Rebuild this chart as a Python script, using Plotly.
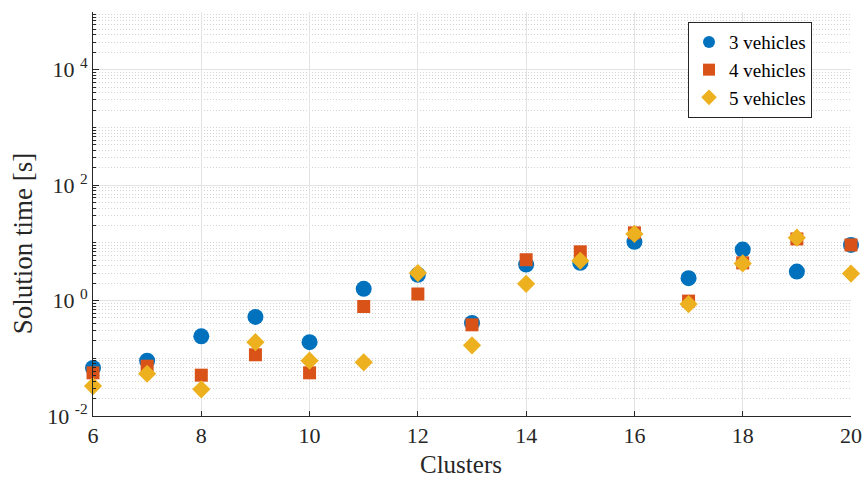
import plotly.graph_objects as go

clusters = [6, 7, 8, 9, 10, 11, 12, 13, 14, 15, 16, 17, 18, 19, 20]
time_3_vehicles = [0.068, 0.091, 0.24, 0.52, 0.19, 1.6, 2.8, 0.41, 4.2, 4.5, 10.4, 2.44, 7.65, 3.18, 9.2]
time_4_vehicles = [0.056, 0.073, 0.051, 0.115, 0.056, 0.79, 1.3, 0.38, 5.1, 7.0, 14.9, 0.98, 4.5, 11.7, 9.2]
time_5_vehicles = [0.033, 0.054, 0.029, 0.19, 0.091, 0.085, 3.0, 0.168, 1.95, 4.9, 14.3, 0.87, 4.4, 12.3, 2.94]

x_ticks = [6, 8, 10, 12, 14, 16, 18, 20]
y_tick_vals = [1e-2, 1e0, 1e2, 1e4]
y_tick_text = ["10 <sup>-2</sup>", "10 <sup>0</sup>", "10 <sup>2</sup>", "10 <sup>4</sup>"]

minor_vals = []
for e in range(-2, 5):
    for k in range(1, 10):
        v = k * 10 ** e
        if v not in y_tick_vals:
            minor_vals.append(v)
minor_vals.append(1e5)

FONT = "Liberation Serif"
AX = "#262626"

fig = go.Figure()
fig.add_trace(go.Scatter(x=clusters, y=time_3_vehicles, mode="markers", name="3 vehicles",
                         marker=dict(symbol="circle", size=16, color="#0072BD"), cliponaxis=False))
fig.add_trace(go.Scatter(x=clusters, y=time_4_vehicles, mode="markers", name="4 vehicles",
                         marker=dict(symbol="square", size=13, color="#D95319"), cliponaxis=False))
fig.add_trace(go.Scatter(x=clusters, y=time_5_vehicles, mode="markers", name="5 vehicles",
                         marker=dict(symbol="diamond", size=14, color="#EDB120"), cliponaxis=False))

fig.update_layout(
    width=862, height=479,
    margin=dict(l=93, r=11, t=12, b=63, autoexpand=False),
    plot_bgcolor="white", paper_bgcolor="white",
    font=dict(family=FONT, size=22, color=AX),
    showlegend=True,
    legend=dict(x=0.785, y=0.975, xanchor="left", yanchor="top",
                bgcolor="white", bordercolor=AX, borderwidth=1,
                font=dict(family=FONT, size=19, color="black"),
                itemsizing="constant", tracegroupgap=0),
    annotations=[
        dict(text="Clusters", xref="paper", yref="paper", x=0.4855, y=-0.121,
             xanchor="center", yanchor="middle", showarrow=False,
             font=dict(family=FONT, size=25, color=AX)),
        dict(text="Solution time [s]", xref="paper", yref="paper", x=-0.093, y=0.4265,
             xanchor="center", yanchor="middle", showarrow=False, textangle=-90,
             font=dict(family=FONT, size=27, color=AX)),
    ],
)
fig.update_xaxes(
    range=[6, 20], tickmode="array", tickvals=x_ticks,
    ticks="inside", ticklen=5, tickcolor=AX,
    showline=True, linecolor=AX, linewidth=1,
    showgrid=True, gridcolor="#e3e3e3", gridwidth=1,
    zeroline=False, mirror=False, automargin=False,
    tickfont=dict(family=FONT, size=22, color=AX),
)
fig.update_yaxes(
    type="log", range=[-2, 5], tickmode="array", tickvals=y_tick_vals, ticktext=y_tick_text,
    ticks="inside", ticklen=6, tickcolor=AX,
    showline=True, linecolor=AX, linewidth=1,
    showgrid=True, gridcolor="#e3e3e3", gridwidth=1,
    zeroline=False, mirror=False, automargin=False,
    minor=dict(tickmode="array", tickvals=minor_vals, ticks="inside", ticklen=3,
               tickcolor=AX, showgrid=True, gridcolor="#d4d4d4", griddash="1px,2px", gridwidth=1),
    tickfont=dict(family=FONT, size=22, color=AX),
)

fig.write_html("out.html")
